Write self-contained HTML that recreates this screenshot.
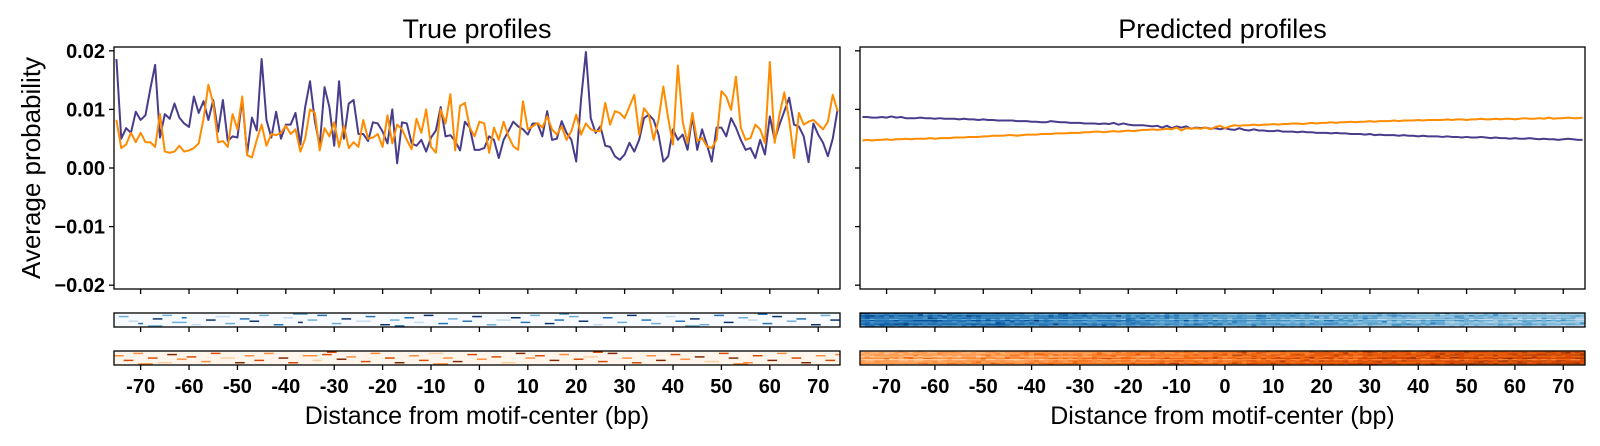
<!DOCTYPE html>
<html><head><meta charset="utf-8">
<style>
html,body{margin:0;padding:0;background:#fff;}
svg{display:block;font-family:"Liberation Sans",sans-serif;}
</style></head>
<body>
<svg id="fig" width="1600" height="446" viewBox="0 0 1600 446" xmlns="http://www.w3.org/2000/svg"></svg>
<script>
// ---- data (values in units of 1e-3) ----
const positions = Array.from({length:150},(_,i)=>i-75);
const trueBlue = [18.6,5.0,6.8,6.0,9.6,8.2,9.0,13.5,17.6,5.2,9.2,8.4,11.0,8.6,7.6,7.0,12.2,9.4,11.4,8.2,
11.6,6.2,11.6,4.6,5.4,5.2,11.8,2.4,8.6,6.4,18.6,8.2,5.2,9.6,5.0,7.4,7.4,9.4,4.0,10.4,
14.8,8.0,3.8,13.8,10.4,3.8,14.8,5.0,11.0,11.6,5.8,5.8,4.6,7.8,7.6,6.2,4.2,10.0,0.8,7.8,
7.6,4.2,3.8,4.8,2.8,5.2,6.4,10.4,5.4,5.6,4.6,3.0,7.9,6.9,3.1,3.1,3.4,5.4,4.8,1.7,
4.8,6.3,7.9,7.1,6.6,5.7,7.6,7.6,5.4,9.7,4.8,5.0,8.0,6.0,4.8,1.1,11.7,19.8,8.5,6.0,
7.1,3.8,3.6,2.0,1.4,2.3,4.3,2.8,4.8,8.5,9.1,8.2,5.7,1.1,2.0,6.6,4.8,5.7,3.1,8.8,
3.1,6.6,4.0,1.1,6.9,6.9,5.4,8.5,6.9,4.8,3.1,3.4,1.7,4.8,2.3,8.8,4.8,7.4,9.7,12.0,
7.4,7.1,5.4,1.0,7.6,5.7,4.3,2.0,5.0,10.0];
const trueOrange = [8.2,3.4,4.0,6.0,4.4,6.0,4.4,4.4,3.6,9.2,2.8,2.6,2.8,3.8,2.8,3.0,3.4,4.2,8.4,14.2,
11.0,4.4,4.6,3.6,9.2,6.6,12.2,2.2,1.8,4.8,7.4,3.8,5.8,5.6,6.0,7.2,5.8,6.6,2.8,5.0,
10.0,9.4,3.0,6.8,5.4,7.8,3.6,7.2,3.4,4.4,3.6,8.2,5.0,5.2,5.8,3.6,9.0,4.2,7.4,6.6,
4.8,3.2,8.4,6.0,10.0,3.6,2.6,10.0,7.6,12.6,3.0,10.6,11.1,6.9,5.4,7.9,7.6,2.6,6.9,4.8,
7.9,5.4,3.7,3.1,11.4,6.6,7.1,7.7,6.9,8.8,6.6,5.7,7.1,4.8,6.3,9.1,5.7,7.6,6.6,6.3,
6.3,11.1,7.4,9.7,9.4,8.5,10.5,12.5,5.7,10.2,9.1,4.8,8.2,13.9,8.5,4.0,17.5,7.9,4.3,9.4,
4.6,5.1,3.7,3.4,4.8,13.1,12.2,9.9,15.6,6.9,4.8,5.1,7.4,6.6,4.3,18.1,4.3,9.1,12.9,8.2,
1.7,9.4,7.4,7.9,8.2,7.4,6.6,7.9,12.5,9.7];
const predBlue = [8.7,8.7,8.6,8.6,8.7,8.6,8.8,8.6,8.7,8.5,8.5,8.5,8.6,8.5,8.5,8.4,8.5,8.4,8.4,8.4,
8.3,8.4,8.3,8.3,8.2,8.3,8.2,8.2,8.1,8.1,8.1,8.1,8.0,8.0,8.0,7.9,7.9,7.8,7.8,8.0,
7.9,7.8,7.8,7.7,7.7,7.7,7.6,7.6,7.6,7.5,7.6,7.5,7.7,7.4,7.6,7.4,7.3,7.3,7.3,7.2,
7.1,7.2,6.9,7.2,6.8,7.1,6.9,7.1,6.7,6.9,6.8,6.9,6.7,6.8,6.6,6.8,6.6,6.5,6.8,6.5,
6.4,6.6,6.4,6.4,6.3,6.3,6.4,6.2,6.2,6.2,6.1,6.2,6.1,6.1,6.0,6.0,6.0,5.9,6.0,5.9,
5.9,5.8,5.8,5.8,5.7,5.8,5.6,5.7,5.6,5.6,5.6,5.5,5.6,5.5,5.5,5.4,5.5,5.4,5.4,5.4,
5.3,5.4,5.3,5.3,5.2,5.3,5.2,5.2,5.3,5.2,5.1,5.2,5.1,5.1,5.0,5.1,5.0,5.0,5.1,5.0,
4.9,5.0,4.9,4.9,4.8,4.9,5.0,4.9,4.8,4.8];
const predOrange = [4.7,4.8,4.7,4.8,4.8,4.9,4.8,4.9,4.9,5.0,4.9,5.0,5.0,5.0,5.1,5.0,5.1,5.1,5.1,5.2,
5.2,5.2,5.3,5.3,5.3,5.4,5.4,5.5,5.5,5.5,5.6,5.6,5.5,5.6,5.7,5.7,5.7,5.8,5.8,5.8,
5.9,5.9,5.9,6.0,6.0,6.0,6.1,6.1,6.2,6.2,6.1,6.2,6.3,6.2,6.3,6.4,6.3,6.4,6.5,6.5,
6.6,6.5,6.6,6.7,6.6,6.9,6.4,6.8,6.7,6.8,6.7,6.9,6.6,7.0,7.2,6.8,7.1,7.3,7.2,7.3,
7.3,7.4,7.3,7.4,7.4,7.5,7.4,7.5,7.5,7.6,7.6,7.5,7.6,7.7,7.6,7.7,7.7,7.8,7.7,7.8,
7.8,7.9,7.8,7.9,7.9,8.0,7.9,8.0,8.0,8.0,8.1,8.0,8.1,8.1,8.1,8.2,8.1,8.2,8.2,8.2,
8.2,8.3,8.2,8.3,8.3,8.2,8.3,8.3,8.4,8.3,8.3,8.4,8.3,8.4,8.4,8.3,8.4,8.5,8.4,8.4,
8.5,8.4,8.6,8.4,8.5,8.5,8.6,8.5,8.5,8.6];
const yTicks = [0.02,0.01,0,-0.01,-0.02];
const yTickLabels = ["0.02","0.01","0.00","\u22120.01","\u22120.02"];
const xTicks = [-70,-60,-50,-40,-30,-20,-10,0,10,20,30,40,50,60,70];
// [column, row, level 1-4, width in columns]
const trueBlueCells = [[1,2,2,2],[3,6,1,2],[5,8,3,1],[8,4,4,2],[10,1,2,2],[12,7,2,3],[14,3,3,1],[16,9,1,2],[19,5,4,2],[21,2,1,3],[23,8,2,2],[26,4,3,2],[28,6,4,2],[30,1,2,2],[33,9,3,2],[35,3,1,2],[38,7,4,1],[40,5,2,2],[42,1,3,2],[45,8,2,2],[47,4,4,2],[50,6,1,3],[52,2,3,2],[55,9,4,2],[57,5,2,2],[60,3,3,2],[62,7,1,2],[64,1,4,2],[67,8,3,2],[69,4,2,2],[72,6,3,2],[74,2,4,2],[77,9,2,2],[79,5,1,3],[82,3,4,2],[84,7,3,2],[86,1,2,2],[89,8,4,2],[91,5,3,2],[94,2,2,2],[96,6,4,2],[99,9,1,2],[101,3,3,2],[104,7,2,2],[106,1,4,2],[109,5,3,2],[111,8,2,2],[114,2,1,2],[116,6,3,2],[119,4,4,2],[121,9,2,2],[124,1,3,2],[126,7,4,2],[129,3,2,2],[131,5,1,2],[134,8,3,2],[136,2,4,2],[139,6,2,2],[141,4,3,2],[144,9,4,2],[146,1,2,2],[148,5,4,2],[7,10,2,3],[37,0,2,3],[58,10,3,2],[92,0,2,2],[118,10,2,3],[133,0,3,2]];
const trueOrangeCells = [[0,3,2,2],[2,7,3,2],[4,1,2,2],[7,5,3,2],[9,9,1,3],[11,2,4,2],[13,6,2,2],[15,4,3,2],[18,8,2,2],[20,1,3,2],[22,5,1,3],[25,9,4,2],[27,3,2,2],[29,7,3,2],[31,1,2,2],[34,5,4,2],[36,9,3,2],[39,3,2,3],[41,7,1,2],[43,2,3,2],[46,6,4,2],[48,4,2,2],[51,8,3,2],[53,1,2,2],[56,5,3,2],[58,9,4,2],[61,3,2,2],[63,7,3,2],[65,1,1,3],[68,5,2,2],[70,8,4,2],[73,2,3,2],[75,6,2,2],[78,4,3,2],[80,9,1,3],[83,1,4,2],[85,5,2,2],[87,3,3,2],[90,7,4,2],[92,2,2,2],[95,6,3,2],[97,4,1,3],[100,8,3,2],[102,1,4,2],[105,5,2,2],[107,9,3,2],[110,3,2,2],[112,7,4,2],[115,2,3,2],[117,6,2,2],[120,4,4,2],[122,8,1,3],[125,1,3,2],[127,5,4,2],[130,9,2,2],[132,3,3,2],[135,7,4,2],[137,1,2,2],[140,5,3,2],[142,9,4,2],[145,3,2,2],[147,7,3,2],[149,2,2,1],[5,10,2,3],[44,0,3,2],[66,10,2,3],[99,0,3,2],[128,10,2,3]];
const predBlueRows = [0.02,-0.08,0.1,-0.04,0.06,-0.12,0.08,0.0,-0.06,0.12,-0.02,-0.15];
const predOrangeRows = [-0.1,0.04,-0.04,0.1,-0.06,0.02,0.08,-0.12,0.06,-0.02,0.12,-0.08];

// ---- drawing ----
const svg = document.getElementById('fig');
const NS = 'http://www.w3.org/2000/svg';
function mk(tag, attrs, parent){const e=document.createElementNS(NS,tag);for(const k in attrs)e.setAttribute(k,attrs[k]);(parent||svg).appendChild(e);return e;}
const BLUES=['#f7fbff','#deebf7','#c6dbef','#9ecae1','#6baed6','#4292c6','#2171b5','#08519c','#08306b'];
const ORANGES=['#fff5eb','#fee6ce','#fdd0a2','#fdae6b','#fd8d3c','#f16913','#d94801','#a63603','#7f2704'];
function cmap(c,t){t=Math.max(0,Math.min(1,t));return c[Math.round(t*(c.length-1))];}
const Y0=168, YS=5.86;
function yPos(v){return Y0 - v*1000*YS;}
const panels=[{x0:114,x1:840,title:'True profiles',b:trueBlue,o:trueOrange,name:'true'},
              {x0:860,x1:1585,title:'Predicted profiles',b:predBlue,o:predOrange,name:'predicted'}];
const axTop=47,axBottom=289;
const hm=[{y:313,h:14},{y:351,h:14}];
const ROWS=12;
panels.forEach((p,pi)=>{
  const xs=(p.x1-p.x0)/150;
  const xPos=v=>p.x0+(v+75.5)*xs;
  const g=mk('g',{});
  
  
  const t=mk('text',{x:(p.x0+p.x1)/2,y:38,'text-anchor':'middle','font-size':27},g);
  t.textContent=p.title;
  
  
  [[p.b,'#483d8b','blue'],[p.o,'#ff8c00','orange']].forEach(([arr,col,nm])=>{
    const d=arr.map((v,i)=>(i?'L':'M')+xPos(positions[i]).toFixed(2)+','+yPos(v/1000).toFixed(2)).join(' ');
    const path=mk('path',{d:d,fill:'none',stroke:col,'stroke-width':2,'stroke-linejoin':'round'},g);
    
    
  });
  const fr=mk('rect',{x:p.x0,y:axTop,width:p.x1-p.x0,height:axBottom-axTop,fill:'none',stroke:'#000','stroke-width':1.3},g);
  
  
  yTicks.forEach((v,i)=>{
    mk('line',{x1:p.x0-5,x2:p.x0,y1:yPos(v),y2:yPos(v),stroke:'#000','stroke-width':1.3},g);
    if(pi===0){
      const tl=mk('text',{x:p.x0-9,y:yPos(v)+7,'text-anchor':'end','font-size':20,'font-weight':'bold'},g);
      tl.textContent=yTickLabels[i];
      
      
    }
  });
  xTicks.forEach(v=>mk('line',{x1:xPos(v),x2:xPos(v),y1:axBottom,y2:axBottom+5,stroke:'#000','stroke-width':1.3},g));
  hm.forEach((h,hi)=>{
    const colors=hi===0?BLUES:ORANGES;
    const hg=mk('g',{},g);
    
    
    mk('rect',{x:p.x0,y:h.y,width:p.x1-p.x0,height:h.h,fill:colors[0]},hg);
    const rh=h.h/ROWS;
    if(pi===0){
      const cells=hi===0?trueBlueCells:trueOrangeCells;
      cells.forEach(([c,r,l,w])=>{
        mk('rect',{x:xPos(positions[c])-xs/2,y:h.y+r*rh+0.5,width:xs*w,height:rh+0.3,fill:colors[l*2]},hg);
      });
    } else {
      const prof=hi===0?predBlue:predOrange, rows=hi===0?predBlueRows:predOrangeRows;
      const jit=hi===0?trueBlue:trueOrange;
      for(let r=0;r<ROWS;r++){
        for(let c=0;c<150;c++){
          const base=hi===0 ? 0.42+(prof[c]-4.8)/3.9*0.32 : 0.38+(prof[c]-4.7)/3.9*0.36;
          const jj=(jit[(c*7+r*13)%150]-7)/60;
          const tv=base+rows[r]+jj;
          mk('rect',{x:xPos(positions[c])-xs/2,y:h.y+r*rh,width:xs+0.4,height:rh+0.2,fill:cmap(colors,tv)},hg);
        }
      }
    }
    mk('rect',{x:p.x0,y:h.y,width:p.x1-p.x0,height:h.h,fill:'none',stroke:'#000','stroke-width':1.3},hg);
    xTicks.forEach(v=>mk('line',{x1:xPos(v),x2:xPos(v),y1:h.y+h.h,y2:h.y+h.h+5,stroke:'#000','stroke-width':1.3},hg));
  });
  xTicks.forEach(v=>{
    const tl=mk('text',{x:xPos(v),y:393,'text-anchor':'middle','font-size':20,'font-weight':'bold'},g);
    tl.textContent=String(v);
    
    
  });
  const xl=mk('text',{x:(p.x0+p.x1)/2,y:424,'text-anchor':'middle','font-size':25},g);
  xl.textContent='Distance from motif-center (bp)';
  
  
});
const yl=mk('text',{x:0,y:0,'text-anchor':'middle','font-size':26,transform:'translate(40,168) rotate(-90)'});
yl.textContent='Average probability';


</script>
</body></html>
